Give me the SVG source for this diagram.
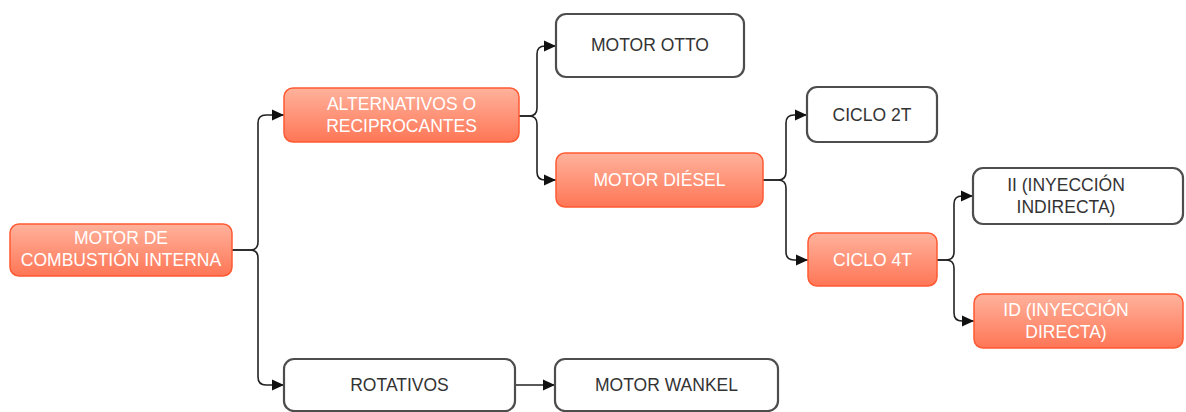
<svg xmlns="http://www.w3.org/2000/svg" width="1186" height="412" viewBox="0 0 1186 412">
<defs>
<linearGradient id="og" x1="0" y1="0" x2="0" y2="1">
<stop offset="0" stop-color="#ffb29c"/>
<stop offset="1" stop-color="#ff7656"/>
</linearGradient>
<marker id="arr" markerWidth="14" markerHeight="12" refX="12" refY="6" orient="auto" markerUnits="userSpaceOnUse">
<path d="M0,0.5 L12,6 L0,11.5 Z" fill="#111"/>
</marker>
</defs>
<style>
.o{fill:url(#og);stroke:#ff5a33;stroke-width:1.5}
.w{fill:#fff;stroke:#4d4d4d;stroke-width:2.2}
text{font-family:"Liberation Sans",Arial,sans-serif;font-size:17.5px;text-anchor:middle}
.ot{fill:#fff}
.wt{fill:#333}
.e{fill:none;stroke:#222;stroke-width:1.6;marker-end:url(#arr)}
</style>
<g id="connectors">
<path class="e" d="M232,250 L250,250 Q258,250 258,242 L258,123 Q258,115 266,115 L284,115"/>
<path class="e" d="M232,250 L250,250 Q258,250 258,258 L258,377 Q258,385 266,385 L284,385"/>
<path class="e" d="M519,116 L529,116 Q537,116 537,108 L537,54 Q537,46 545,46 L556,46"/>
<path class="e" d="M519,116 L529,116 Q537,116 537,124 L537,172 Q537,180 545,180 L556,180"/>
<path class="e" d="M763,180 L778,180 Q786,180 786,172 L786,123 Q786,115 794,115 L807,115"/>
<path class="e" d="M763,180 L778,180 Q786,180 786,188 L786,252 Q786,260 794,260 L808,260"/>
<path class="e" d="M937,260 L946,260 Q954,260 954,252 L954,204 Q954,196 962,196 L973,196"/>
<path class="e" d="M937,260 L946,260 Q954,260 954,268 L954,313 Q954,321 962,321 L974,321"/>
<path class="e" d="M515,385 L555,385"/>
</g>
<g id="n-mci"><rect class="o" x="10" y="224" width="222" height="52" rx="9"/><text class="ot" x="121" y="244">MOTOR DE</text><text class="ot" x="121" y="266">COMBUSTIÓN INTERNA</text></g>
<g id="n-alt"><rect class="o" x="284" y="88" width="235" height="54" rx="9"/><text class="ot" x="401.5" y="110">ALTERNATIVOS O</text><text class="ot" x="401.5" y="132">RECIPROCANTES</text></g>
<g id="n-otto"><rect class="w" x="556" y="14" width="188" height="63" rx="10"/><text class="wt" x="650" y="51">MOTOR OTTO</text></g>
<g id="n-diesel"><rect class="o" x="556" y="153" width="207" height="54" rx="9"/><text class="ot" x="659.5" y="186">MOTOR DIÉSEL</text></g>
<g id="n-2t"><rect class="w" x="807" y="87" width="130" height="55" rx="10"/><text class="wt" x="872" y="121">CICLO 2T</text></g>
<g id="n-4t"><rect class="o" x="808" y="233" width="129" height="53" rx="9"/><text class="ot" x="872.5" y="266">CICLO 4T</text></g>
<g id="n-ii"><rect class="w" x="973" y="168" width="210" height="56" rx="10"/><text class="wt" x="1066" y="191">II (INYECCIÓN</text><text class="wt" x="1066" y="213">INDIRECTA)</text></g>
<g id="n-id"><rect class="o" x="974" y="294" width="209" height="54" rx="9"/><text class="ot" x="1066" y="316">ID (INYECCIÓN</text><text class="ot" x="1066" y="338">DIRECTA)</text></g>
<g id="n-rot"><rect class="w" x="284" y="359" width="231" height="52" rx="10"/><text class="wt" x="399.5" y="391">ROTATIVOS</text></g>
<g id="n-wankel"><rect class="w" x="555" y="359" width="223" height="52" rx="10"/><text class="wt" x="666.5" y="391">MOTOR WANKEL</text></g>
</svg>
